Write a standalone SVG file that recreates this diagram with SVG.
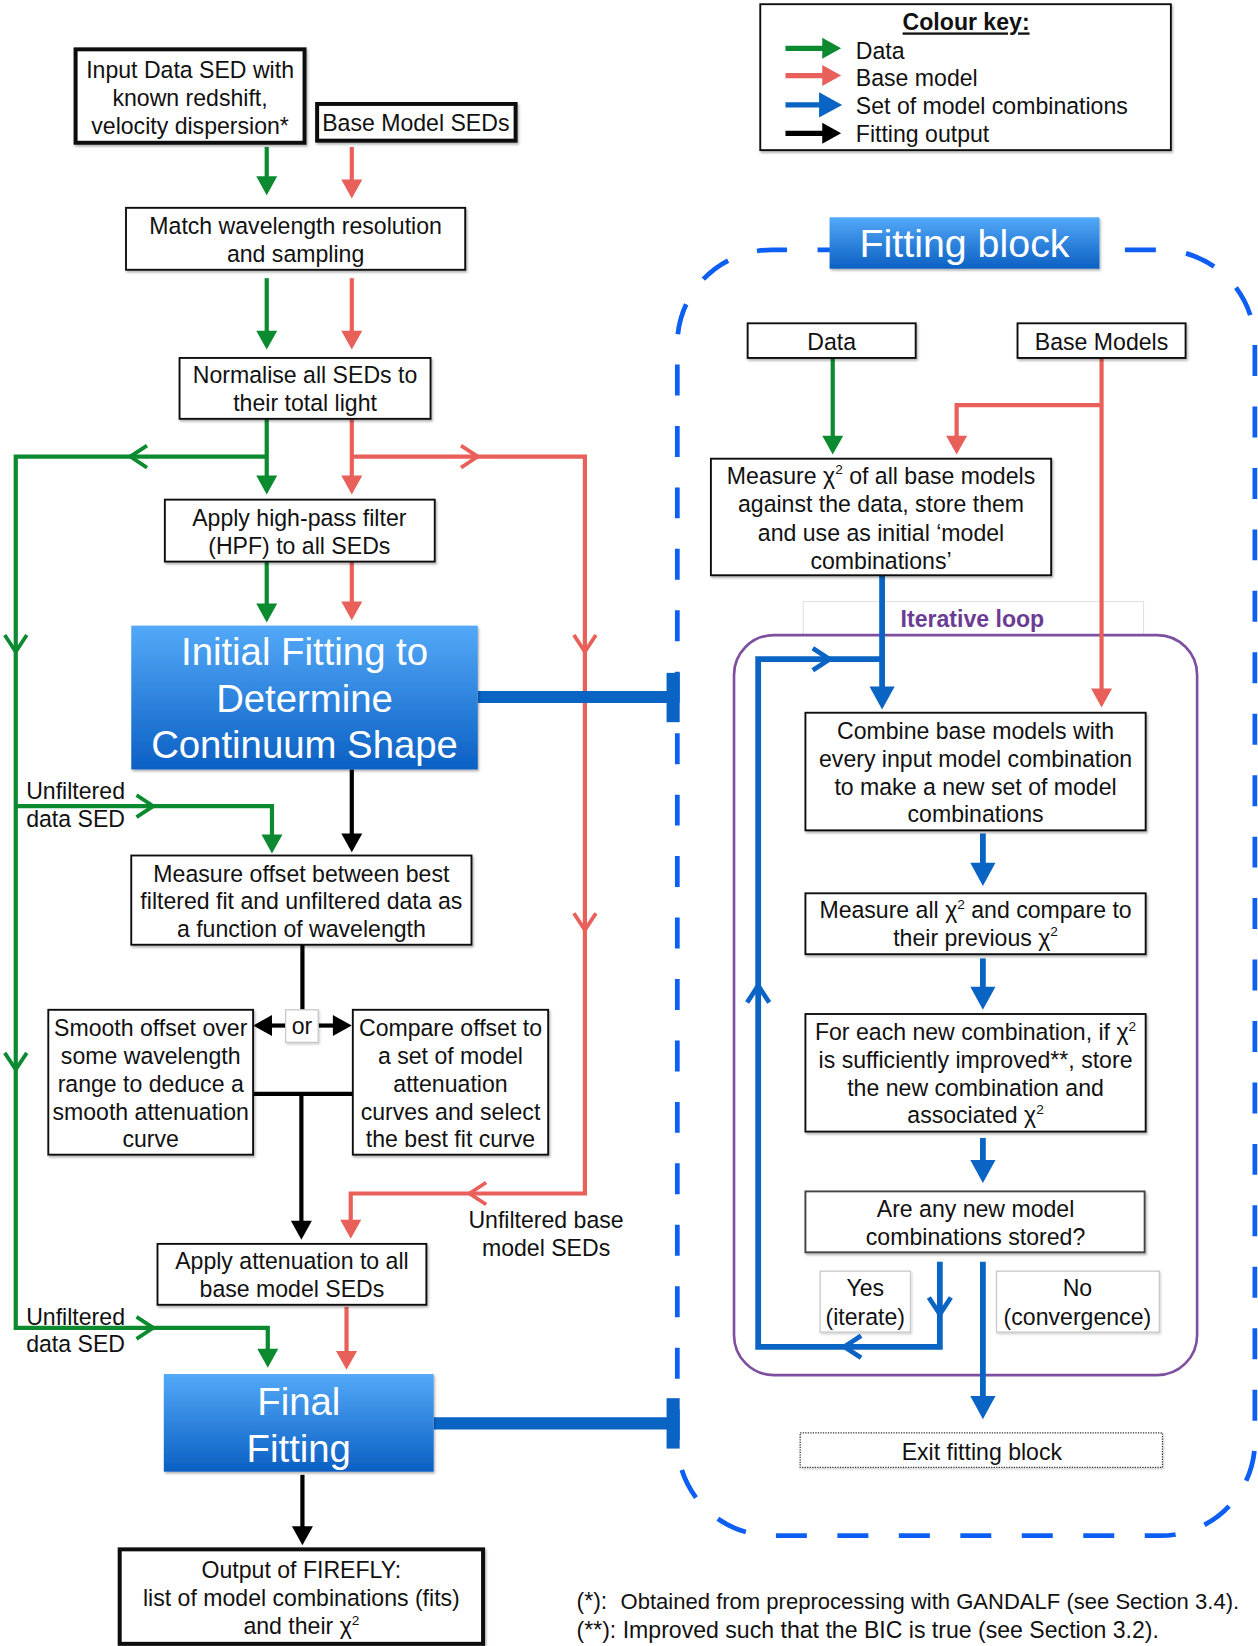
<svg xmlns="http://www.w3.org/2000/svg" xmlns:xlink="http://www.w3.org/1999/xlink" width="1258" height="1646" viewBox="0 0 1258 1646">
<style>
.t{font-family:"Liberation Sans",Arial,Helvetica,sans-serif;font-size:22px;fill:#111;text-anchor:middle}
.l{text-anchor:start}
.big{font-size:36.5px;fill:#fff}
.sup{font-size:13px}
.box{fill:#fff;stroke:#111;stroke-width:1.8;filter:url(#sh)}
.thick{stroke-width:3.8}
.lab{fill:#fff;stroke:#c8c8c8;stroke-width:1.2;filter:url(#sh2)}
.grad{fill:url(#blueg);filter:url(#sh)}
.c{fill:none;stroke-width:4;stroke-linejoin:miter}
.g{stroke:#0b8a30}
.r{stroke:#e9605a}
.k{stroke:#000}
.b{stroke:#0a64c4;stroke-width:5.5}
.tb{stroke:#0a64c4;stroke-width:11.5;fill:none}
.ch{fill:none;stroke-width:3.6}
</style>
<defs>
<linearGradient id="blueg" x1="0" y1="0" x2="0" y2="1">
<stop offset="0" stop-color="#53a9f8"/>
<stop offset="1" stop-color="#0b60c3"/>
</linearGradient>
<filter id="sh" x="-5%" y="-5%" width="115%" height="125%">
<feDropShadow dx="1.2" dy="1.8" stdDeviation="1" flood-color="#000" flood-opacity="0.3"/>
</filter>
<filter id="sh2" x="-5%" y="-5%" width="115%" height="125%">
<feDropShadow dx="1" dy="1.5" stdDeviation="0.8" flood-color="#000" flood-opacity="0.18"/>
</filter>
<marker id="ahG" markerUnits="userSpaceOnUse" markerWidth="18" markerHeight="20" refX="13" refY="10" orient="auto" overflow="visible"><path d="M0,0 L18,10 L0,20 z" fill="#0b8a30"/></marker>
<marker id="ahR" markerUnits="userSpaceOnUse" markerWidth="18" markerHeight="20" refX="13" refY="10" orient="auto" overflow="visible"><path d="M0,0 L18,10 L0,20 z" fill="#e9605a"/></marker>
<marker id="ahK" markerUnits="userSpaceOnUse" markerWidth="18" markerHeight="20" refX="13" refY="10" orient="auto" overflow="visible"><path d="M0,0 L18,10 L0,20 z" fill="#000"/></marker>
<marker id="ahB" markerUnits="userSpaceOnUse" markerWidth="22" markerHeight="24" refX="16" refY="12" orient="auto" overflow="visible"><path d="M0,0 L22,12 L0,24 z" fill="#0a64c4"/></marker>
<path id="chev" d="M-16,-10.5 L0,0 L-16,10.5"/>
</defs>

<g transform="scale(1.0501 1.0497)">

<g id="fitting-block-outline">
<rect x="645" y="238" width="550" height="1225" rx="90" ry="90" fill="none" stroke="#0d5ef2" stroke-width="4.5" stroke-dasharray="29.5 29.04" stroke-dashoffset="15"/>
</g>

<g id="iterative-loop">
<rect x="765" y="573" width="324" height="32" fill="#fff" stroke="#e2e2e2" stroke-width="1"/>
<text class="t" x="926" y="597" style="font-weight:bold;fill:#6b3c94">Iterative loop</text>
<rect x="699" y="605" width="441" height="705" rx="38" ry="38" fill="none" stroke="#7d4f9e" stroke-width="2.5"/>
</g>

<g id="connectors">
<!-- green: data -->
<path class="c g" d="M254,140 V181" marker-end="url(#ahG)"/>
<path class="c g" d="M254,265 V328" marker-end="url(#ahG)"/>
<path class="c g" d="M254,399 V466" marker-end="url(#ahG)"/>
<path class="c g" d="M254,435 H15 V1265 H255 V1298" marker-end="url(#ahG)"/>
<path class="c g" d="M15,768 H259 V808" marker-end="url(#ahG)"/>
<path class="c g" d="M254,535 V588" marker-end="url(#ahG)"/>
<path class="c g" d="M793,341 V428" marker-end="url(#ahG)"/>
<use xlink:href="#chev" class="ch g" transform="translate(124,435) rotate(180)"/>
<use xlink:href="#chev" class="ch g" transform="translate(15,621) rotate(90)"/>
<use xlink:href="#chev" class="ch g" transform="translate(15,1019) rotate(90)"/>
<use xlink:href="#chev" class="ch g" transform="translate(146,768)"/>
<use xlink:href="#chev" class="ch g" transform="translate(146,1265)"/>
<!-- red: base model -->
<path class="c r" d="M335,140 V184" marker-end="url(#ahR)"/>
<path class="c r" d="M335,265 V328" marker-end="url(#ahR)"/>
<path class="c r" d="M335,399 V466" marker-end="url(#ahR)"/>
<path class="c r" d="M335,435 H557 V1137 H334 V1175" marker-end="url(#ahR)"/>
<path class="c r" d="M335,535 V586" marker-end="url(#ahR)"/>
<path class="c r" d="M330,1245 V1300" marker-end="url(#ahR)"/>
<path class="c r" d="M1049,341 V669" marker-end="url(#ahR)"/>
<path class="c r" d="M1049,386 H911 V428" marker-end="url(#ahR)"/>
<use xlink:href="#chev" class="ch r" transform="translate(455,435)"/>
<use xlink:href="#chev" class="ch r" transform="translate(557,621) rotate(90)"/>
<use xlink:href="#chev" class="ch r" transform="translate(557,886) rotate(90)"/>
<use xlink:href="#chev" class="ch r" transform="translate(447,1137) rotate(180)"/>
<!-- black: fitting output -->
<path class="c k" d="M335,733 V807" marker-end="url(#ahK)"/>
<path class="c k" d="M288,900 V962"/>
<path class="c k" d="M272,977 H246" marker-end="url(#ahK)"/>
<path class="c k" d="M303,977 H330" marker-end="url(#ahK)"/>
<path class="c k" d="M241,1042 H336"/>
<path class="c k" d="M287,1042 V1176" marker-end="url(#ahK)"/>
<path class="c k" d="M288,1405 V1467" marker-end="url(#ahK)"/>
<!-- blue: model combinations -->
<path class="c b" d="M840,548 V670" marker-end="url(#ahB)"/>
<path class="c b" d="M840,628 H722 V1283 H895 V1202"/>
<use xlink:href="#chev" class="ch b" style="stroke-width:4.5" transform="translate(790,628)"/>
<use xlink:href="#chev" class="ch b" style="stroke-width:4.5" transform="translate(722,939) rotate(-90)"/>
<use xlink:href="#chev" class="ch b" style="stroke-width:4.5" transform="translate(804,1283) rotate(180)"/>
<use xlink:href="#chev" class="ch b" style="stroke-width:4.5" transform="translate(895,1252) rotate(90)"/>
<path class="c b" d="M936,794 V838" marker-end="url(#ahB)"/>
<path class="c b" d="M936,913 V956" marker-end="url(#ahB)"/>
<path class="c b" d="M936,1084 V1121" marker-end="url(#ahB)"/>
<path class="c b" d="M936,1202 V1346" marker-end="url(#ahB)"/>
<path class="tb" d="M455,664 H641"/>
<path class="tb" d="M641,641 V688" style="stroke-width:12.5"/>
<path class="tb" d="M413,1356 H641"/>
<path class="tb" d="M641,1332 V1380" style="stroke-width:12.5"/>
<!-- labels -->
<text class="t" x="72" y="761">Unfiltered</text>
<text class="t" x="72" y="788">data SED</text>
<text class="t" x="72" y="1262">Unfiltered</text>
<text class="t" x="72" y="1288">data SED</text>
<text class="t" x="520" y="1170">Unfiltered base</text>
<text class="t" x="520" y="1197">model SEDs</text>
</g>

<g id="colour-key">
<rect class="box" x="724" y="4" width="391" height="139"/>
<text class="t" x="920" y="29" style="font-weight:bold;text-decoration:underline">Colour key:</text>
<path class="c g" d="M748,46 H796" style="stroke-width:5" marker-end="url(#ahG)"/>
<path class="c r" d="M748,72 H796" style="stroke-width:5" marker-end="url(#ahR)"/>
<path class="c" d="M748,100 H796" style="stroke:#0a64c4;stroke-width:5" marker-end="url(#ahB)"/>
<path class="c k" d="M748,127 H796" style="stroke-width:5" marker-end="url(#ahK)"/>
<text class="t l" x="815" y="56">Data</text>
<text class="t l" x="815" y="82">Base model</text>
<text class="t l" x="815" y="109">Set of model combinations</text>
<text class="t l" x="815" y="135">Fitting output</text>
</g>

<g id="input-data-sed">
<rect class="box thick" x="72" y="47" width="218" height="89"/>
<text class="t"><tspan x="181" y="74">Input Data SED with</tspan><tspan x="181" y="101">known redshift,</tspan><tspan x="181" y="128">velocity dispersion*</tspan></text>
</g>

<g id="base-model-seds">
<rect class="box thick" x="302" y="99" width="189" height="35"/>
<text class="t" x="396" y="125">Base Model SEDs</text>
</g>

<g id="match-wavelength">
<rect class="box" x="120" y="198" width="323" height="59"/>
<text class="t"><tspan x="281.5" y="223">Match wavelength resolution</tspan><tspan x="281.5" y="250">and sampling</tspan></text>
</g>

<g id="normalise">
<rect class="box" x="171" y="341" width="239" height="58"/>
<text class="t"><tspan x="290.5" y="365">Normalise all SEDs to</tspan><tspan x="290.5" y="392">their total light</tspan></text>
</g>

<g id="high-pass-filter">
<rect class="box" x="157" y="476" width="257" height="59"/>
<text class="t"><tspan x="285" y="501">Apply high-pass filter</tspan><tspan x="285" y="528">(HPF) to all SEDs</tspan></text>
</g>

<g id="initial-fitting">
<rect class="grad" x="125" y="596" width="330" height="137"/>
<text class="t big"><tspan x="290" y="634">Initial Fitting to</tspan><tspan x="290" y="678">Determine</tspan><tspan x="290" y="722">Continuum Shape</tspan></text>
</g>

<g id="measure-offset">
<rect class="box" x="125" y="815" width="324" height="85"/>
<text class="t"><tspan x="287" y="840">Measure offset between best</tspan><tspan x="287" y="866">filtered fit and unfiltered data as</tspan><tspan x="287" y="893">a function of wavelength</tspan></text>
</g>

<g id="or">
<rect class="lab" x="272" y="962" width="31" height="31"/>
<text class="t" x="287.5" y="985">or</text>
</g>

<g id="smooth-offset">
<rect class="box" x="46" y="962" width="195" height="138"/>
<text class="t"><tspan x="143.5" y="987">Smooth offset over</tspan><tspan x="143.5" y="1014">some wavelength</tspan><tspan x="143.5" y="1040">range to deduce a</tspan><tspan x="143.5" y="1067">smooth attenuation</tspan><tspan x="143.5" y="1093">curve</tspan></text>
</g>

<g id="compare-offset">
<rect class="box" x="336" y="962" width="186" height="138"/>
<text class="t"><tspan x="429" y="987">Compare offset to</tspan><tspan x="429" y="1014">a set of model</tspan><tspan x="429" y="1040">attenuation</tspan><tspan x="429" y="1067">curves and select</tspan><tspan x="429" y="1093">the best fit curve</tspan></text>
</g>

<g id="apply-attenuation">
<rect class="box" x="150" y="1185" width="256" height="58"/>
<text class="t"><tspan x="278" y="1209">Apply attenuation to all</tspan><tspan x="278" y="1236">base model SEDs</tspan></text>
</g>

<g id="final-fitting">
<rect class="grad" x="156" y="1309" width="257" height="93"/>
<text class="t big"><tspan x="284.5" y="1348">Final</tspan><tspan x="284.5" y="1393">Fitting</tspan></text>
</g>

<g id="output-firefly">
<rect class="box thick" x="114" y="1476" width="346" height="90"/>
<text class="t"><tspan x="287" y="1503">Output of FIREFLY:</tspan><tspan x="287" y="1530">list of model combinations (fits)</tspan><tspan x="287" y="1557">and their χ<tspan class="sup" dy="-9">2</tspan></tspan></text>
</g>

<g id="fitting-block-title">
<rect class="grad" x="790" y="207" width="257" height="49"/>
<text class="t big" x="918.5" y="245" style="font-size:37.5px">Fitting block</text>
</g>

<g id="data">
<rect class="box" x="712" y="308" width="160" height="33"/>
<text class="t" x="792" y="333">Data</text>
</g>

<g id="base-models">
<rect class="box" x="969" y="308" width="160" height="33"/>
<text class="t" x="1049" y="333">Base Models</text>
</g>

<g id="measure-chi2">
<rect class="box" x="677" y="437" width="324" height="111"/>
<text class="t"><tspan x="839" y="461">Measure χ<tspan class="sup" dy="-9">2</tspan><tspan dy="9"> of all base models</tspan></tspan><tspan x="839" y="488">against the data, store them</tspan><tspan x="839" y="515">and use as initial ‘model</tspan><tspan x="839" y="542">combinations’</tspan></text>
</g>

<g id="combine">
<rect class="box" x="767" y="679" width="324" height="112"/>
<text class="t"><tspan x="929" y="704">Combine base models with</tspan><tspan x="929" y="731">every input model combination</tspan><tspan x="929" y="757">to make a new set of model</tspan><tspan x="929" y="783">combinations</tspan></text>
</g>

<g id="measure-all-chi2">
<rect class="box" x="767" y="851" width="324" height="58"/>
<text class="t"><tspan x="929" y="875">Measure all χ<tspan class="sup" dy="-9">2</tspan><tspan dy="9"> and compare to</tspan></tspan><tspan x="929" y="901">their previous χ<tspan class="sup" dy="-9">2</tspan></tspan></text>
</g>

<g id="for-each">
<rect class="box" x="767" y="966" width="324" height="112"/>
<text class="t"><tspan x="929" y="991">For each new combination, if χ<tspan class="sup" dy="-9">2</tspan></tspan><tspan x="929" y="1017">is sufficiently improved**, store</tspan><tspan x="929" y="1044">the new combination and</tspan><tspan x="929" y="1070">associated χ<tspan class="sup" dy="-9">2</tspan></tspan></text>
</g>

<g id="are-any-stored">
<rect class="box" x="767" y="1135" width="323" height="58" style="stroke:#444"/>
<text class="t"><tspan x="929" y="1159">Are any new model</tspan><tspan x="929" y="1186">combinations stored?</tspan></text>
</g>

<g id="yes-iterate">
<rect class="lab" x="781" y="1211" width="86" height="58"/>
<text class="t"><tspan x="824" y="1235">Yes</tspan><tspan x="824" y="1262">(iterate)</tspan></text>
</g>

<g id="no-convergence">
<rect class="lab" x="949" y="1211" width="155" height="58"/>
<text class="t"><tspan x="1026" y="1235">No</tspan><tspan x="1026" y="1262">(convergence)</tspan></text>
</g>

<g id="exit-fitting-block">
<rect x="762" y="1365" width="345" height="33" fill="#fff" stroke="#333" stroke-width="1.2" stroke-dasharray="1.2 1.2" style="filter:url(#sh2)"/>
<text class="t" x="935" y="1391">Exit fitting block</text>
</g>

<g id="footnotes">
<text class="t l" x="549" y="1533">(*):</text>
<text class="t l" x="591" y="1533" style="font-size:21px">Obtained from preprocessing with GANDALF (see Section 3.4).</text>
<text class="t l" x="549" y="1560">(**): Improved such that the BIC is true (see Section 3.2).</text>
</g>

</g>
</svg>
